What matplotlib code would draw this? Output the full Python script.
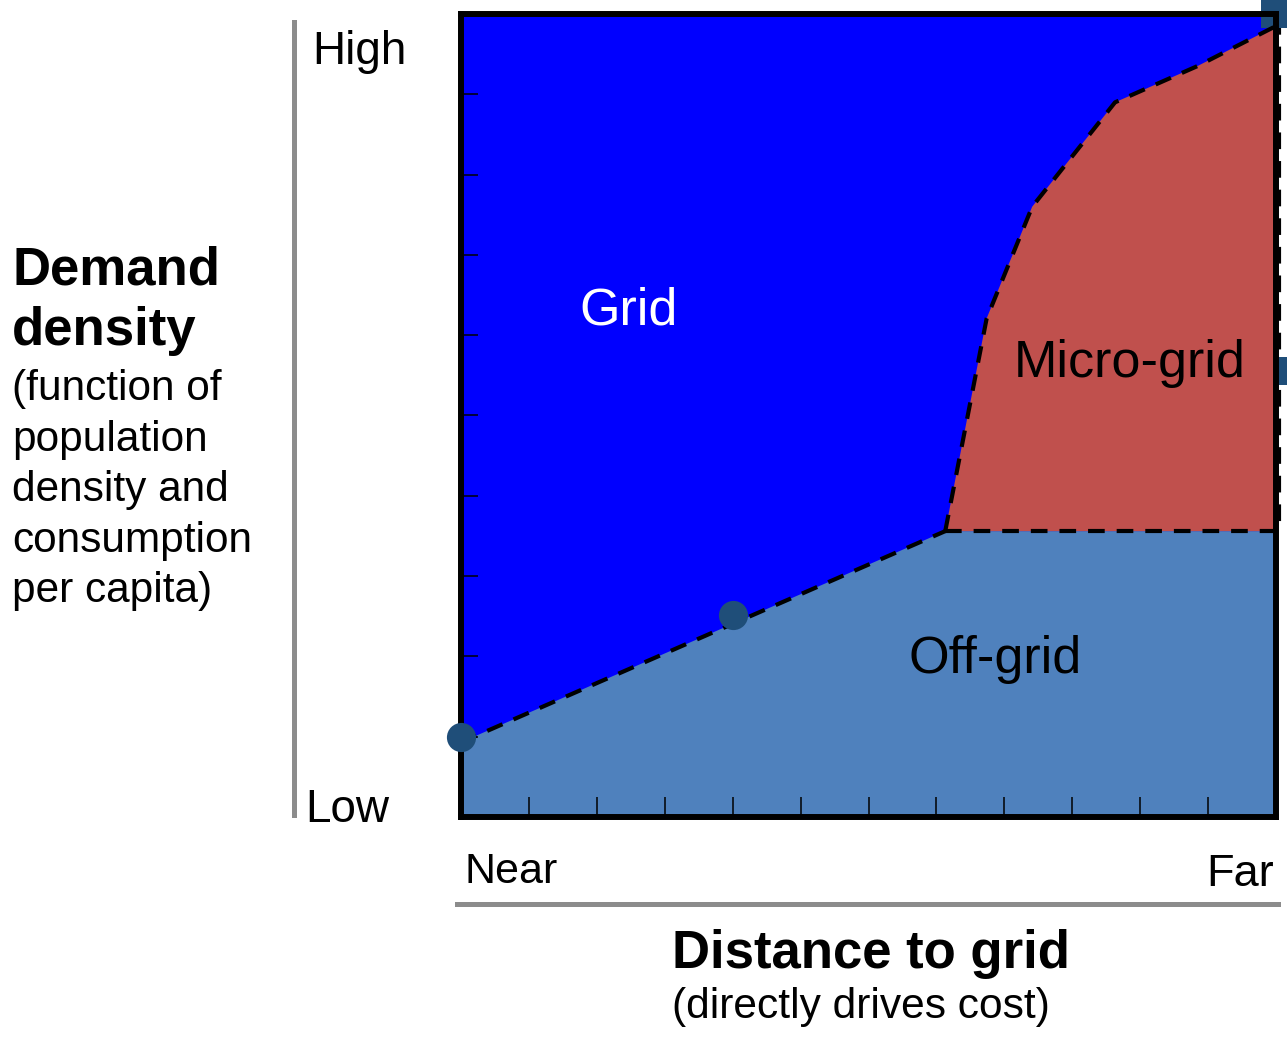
import matplotlib
matplotlib.use("Agg")
import matplotlib.pyplot as plt
from matplotlib.lines import Line2D

plt.rcParams['font.family'] = ['Liberation Sans', 'DejaVu Sans']
plt.rcParams['lines.scale_dashes'] = False

# ---- data (axis units: distance 0..12, density 0..10) ----
x_ticks = list(range(1, 12))
y_ticks = list(range(1, 10))
grid_off_x = [0.0, 7.13]          # grid / off-grid boundary
grid_off_y = [0.93, 3.56]
offgrid_top = 3.56                 # off-grid / micro-grid boundary
micro_x = [7.13, 7.74, 8.41, 9.63, 10.84, 12.0]   # grid / micro-grid boundary
micro_y = [3.56, 6.21, 7.60, 8.90, 9.35, 9.85]
circle_x = [0.0, 4.0]
circle_y = [1.0, 2.52]
square_x = [11.98, 12.24]
square_y = [10.0, 5.55]
region_labels = ["Grid", "Micro-grid", "Off-grid"]
region_label_x = [2.46, 9.85, 7.86]
region_label_y = [6.30, 5.65, 1.96]

W, H = 1287, 1037
fig = plt.figure(figsize=(W / 100, H / 100), dpi=100)
ax = fig.add_axes([461 / W, 1 - 817 / H, (1276 - 461) / W, (817 - 14) / H])
ax.set_xlim(0, 12)
ax.set_ylim(0, 10)

c_grid = '#0000FF'
c_off = '#4F81BD'
c_micro = '#C0504D'
c_dot = '#1F4E79'

ax.set_facecolor(c_grid)
# off-grid region
ox = [0, grid_off_x[0], grid_off_x[1], 12, 12]
oy = [0, grid_off_y[0], grid_off_y[1], offgrid_top, 0]
ax.fill(ox, oy, color=c_off, lw=0, zorder=1)
# micro-grid region
mx = micro_x + [12]
my = micro_y + [offgrid_top]
ax.fill(mx, my, color=c_micro, lw=0, zorder=1)

dash = (0, (12, 8.6))
lw = 3.0
ax.plot(grid_off_x, grid_off_y, color='black', lw=lw, ls=dash, zorder=3)
ax.plot([grid_off_x[1], 12], [offgrid_top, offgrid_top], color='black', lw=lw, ls=dash, zorder=3)
ax.plot(micro_x, micro_y, color='black', lw=lw, ls=dash, zorder=3)
ax.plot([12.04, 12.04], [micro_y[-1] + 0.1, offgrid_top], color='black', lw=lw, ls=dash,
        zorder=2, clip_on=False)

ax.plot(circle_x, circle_y, 'o', ms=21, color=c_dot, mew=0, zorder=4, clip_on=False)
ax.plot(square_x, square_y, 's', ms=19.5, color=c_dot, mew=0, zorder=2, clip_on=False)

for s in ax.spines.values():
    s.set_linewidth(4.3)
    s.set_color('black')
    s.set_zorder(2.6)

ax.set_xticks(x_ticks)
ax.set_yticks(y_ticks)
ax.tick_params(axis='x', direction='in', length=14.4, width=1.1, color='black',
               labelbottom=False)
ax.tick_params(axis='y', direction='in', length=12, width=1.1, color='black',
               labelleft=False)

for lab, lx, ly, col in zip(region_labels, region_label_x, region_label_y,
                            ['white', 'black', 'black']):
    ax.text(lx, ly, lab, color=col, fontsize=37.5, ha='center', va='center', zorder=5)

def ftext(px, py, s, **kw):
    fig.text(px / W, 1 - py / H, s, va='baseline', **kw)

ftext(312, 64, "High", fontsize=33)
ftext(305, 822, "Low", fontsize=33)
ftext(465, 883, "Near", fontsize=31)
ftext(1274, 886, "Far", fontsize=32.5, ha='right')
ftext(672, 968, "Distance to grid", fontsize=38, fontweight='bold')
ftext(672, 1018, "(directly drives cost)", fontsize=30.6)
ftext(12, 285, "Demand", fontsize=38, fontweight='bold')
ftext(12, 345, "density", fontsize=38, fontweight='bold')
for i, line in enumerate(["(function of", "population", "density and",
                          "consumption", "per capita)"]):
    ftext(12, 400 + i * 50.6, line, fontsize=30.5)

gray = '#8C8C8C'
fig.add_artist(Line2D([294 / W, 294 / W], [1 - 22 / H, 1 - 815 / H], color=gray, lw=3.6,
                      transform=fig.transFigure))
fig.add_artist(Line2D([457 / W, 1278 / W], [1 - 904 / H, 1 - 904 / H], color=gray, lw=3.6,
                      transform=fig.transFigure))

fig.savefig("out.png", dpi=100)
